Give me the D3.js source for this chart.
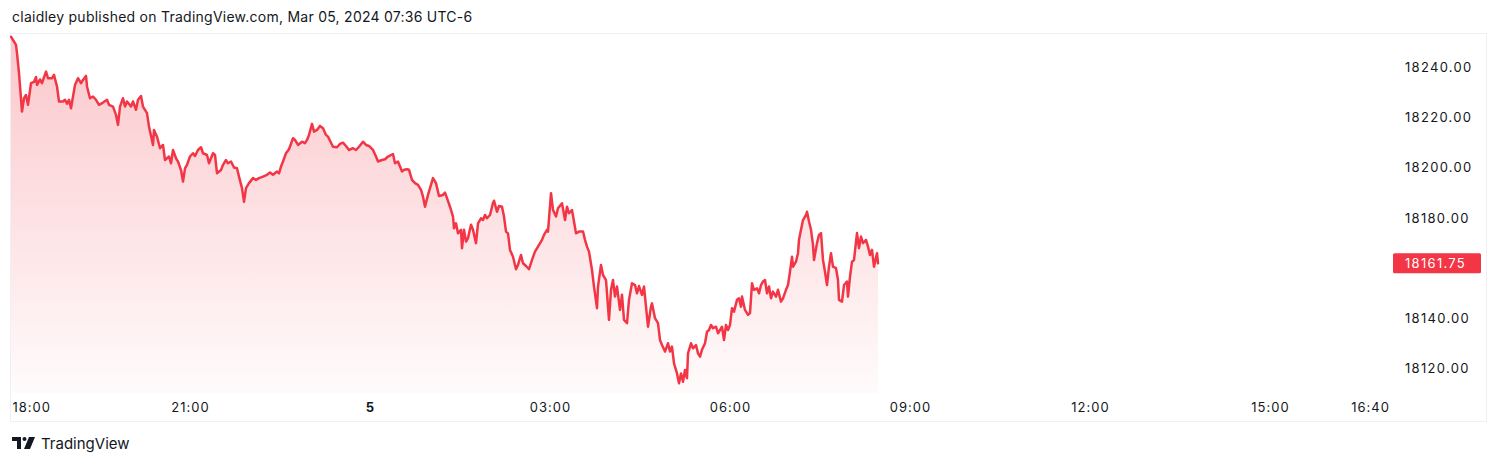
<!DOCTYPE html>
<html>
<head>
<meta charset="utf-8">
<script src="https://cdn.jsdelivr.net/npm/d3@7"></script>
<style>
  html, body { margin: 0; padding: 0; background: #ffffff; }
  svg { display: block; }
  text { font-family: Inter, "Noto Sans", "DejaVu Sans", sans-serif; }
</style>
</head>
<body>
<svg id="chart" width="1500" height="465"></svg>
<script>
// ---- Data (minutes since 18:00 on Mar 4, price) ----
const minutes = [1,6,7,9,12,14,16,18,21,24,26,27,30,32,36,38,42,44,47,49,53,55,57,59,61,63,65,68,71,73,76,77,80,83,86,89,93,97,99,103,106,108,110,113,115,117,121,123,126,128,131,133,137,139,143,144,147,150,153,155,159,161,163,166,168,171,173,175,177,180,183,185,188,191,193,197,199,203,205,207,211,213,216,218,221,224,227,229,232,234,236,239,243,246,249,253,257,260,263,267,269,271,273,276,279,283,285,288,292,295,297,299,302,304,307,310,313,316,318,321,323,327,330,333,336,339,343,346,349,353,356,359,363,366,368,372,375,378,383,385,388,392,394,397,399,402,405,408,411,413,415,418,420,423,426,429,433,435,437,440,443,444,446,448,451,452,454,456,458,461,463,466,468,471,473,475,477,480,483,484,487,489,492,494,496,498,500,503,506,508,511,513,516,519,522,525,528,532,534,537,538,541,543,546,548,552,555,557,559,562,564,566,569,573,575,577,579,582,584,587,588,591,593,596,599,601,603,605,607,610,612,614,617,619,622,625,627,629,632,634,636,638,641,642,645,648,650,652,655,658,660,662,664,667,669,671,673,675,677,678,681,683,686,688,690,692,695,697,699,701,703,706,708,710,712,714,716,718,720,722,724,727,729,731,732,735,738,740,742,744,747,749,751,753,755,757,759,761,763,766,768,771,773,776,778,780,782,783,786,788,789,791,793,796,797,799,801,803,804,807,809,811,813,815,817,819,821,823,826,828,829,832,834,837,838,840,842,844,847,849,851,853,856,858,860,862,864,867,868];
const prices = [18252.0,18248.8,18245.5,18237.5,18222.2,18227.5,18228.8,18224.9,18233.5,18234.0,18236.0,18232.8,18235.0,18233.5,18238.1,18235.5,18235.5,18236.8,18232.2,18226.2,18226.2,18226.9,18225.3,18226.9,18223.5,18228.2,18232.8,18235.5,18233.5,18234.8,18236.4,18232.2,18227.5,18228.2,18226.9,18224.9,18225.8,18226.9,18224.9,18224.2,18220.9,18216.9,18224.2,18227.5,18224.2,18226.2,18224.2,18226.2,18222.9,18226.9,18228.4,18224.2,18221.6,18216.2,18208.9,18214.9,18212.2,18207.6,18208.9,18202.9,18204.3,18201.6,18206.9,18203.6,18202.3,18198.9,18194.3,18199.6,18201.0,18204.3,18205.6,18204.5,18206.9,18208.0,18205.6,18204.9,18201.6,18205.6,18204.9,18197.6,18198.9,18201.0,18202.9,18201.6,18202.3,18199.9,18199.6,18196.3,18191.7,18186.3,18191.7,18193.7,18195.7,18195.0,18195.7,18196.3,18197.0,18197.9,18197.0,18198.3,18197.6,18200.3,18202.3,18205.6,18207.2,18211.6,18210.9,18208.9,18210.2,18209.6,18210.9,18212.9,18217.3,18214.2,18214.9,18216.5,18215.6,18212.9,18212.2,18209.8,18208.2,18208.0,18209.3,18209.8,18208.5,18206.9,18207.6,18206.9,18208.2,18210.2,18208.9,18208.5,18206.9,18204.3,18202.3,18202.9,18203.2,18204.3,18205.3,18201.6,18202.3,18198.3,18199.0,18199.2,18199.0,18195.0,18193.7,18193.0,18191.0,18188.3,18184.3,18189.0,18191.7,18195.7,18193.7,18188.6,18189.0,18189.9,18187.7,18184.3,18180.4,18175.7,18177.7,18173.7,18175.1,18167.8,18175.1,18170.4,18171.8,18177.1,18175.1,18169.8,18177.7,18179.7,18179.0,18181.0,18179.7,18181.0,18185.9,18186.7,18182.3,18184.6,18184.3,18180.4,18174.4,18173.7,18167.1,18164.4,18159.4,18161.1,18165.1,18161.8,18160.7,18159.4,18163.1,18166.4,18168.4,18171.1,18173.1,18175.1,18174.4,18189.7,18183.0,18180.4,18183.7,18185.7,18179.0,18184.3,18181.7,18183.0,18178.4,18173.7,18174.4,18174.4,18171.1,18168.4,18166.4,18159.1,18152.5,18143.9,18152.5,18161.1,18157.1,18155.1,18139.2,18151.2,18155.1,18148.5,18152.5,18143.2,18149.2,18139.2,18137.9,18147.2,18153.8,18153.1,18149.8,18152.7,18149.2,18152.5,18144.5,18136.5,18144.5,18145.8,18139.9,18137.9,18131.2,18129.2,18126.6,18129.9,18126.6,18128.6,18121.9,18117.9,18114.0,18117.9,18114.6,18119.3,18116.0,18125.9,18129.9,18127.9,18129.2,18125.9,18124.6,18127.3,18129.9,18134.5,18135.2,18137.2,18135.9,18136.5,18133.9,18135.2,18136.5,18131.2,18137.2,18135.2,18137.2,18143.9,18142.5,18147.2,18147.8,18144.5,18148.5,18143.2,18141.2,18141.9,18153.8,18151.2,18151.8,18149.8,18153.1,18154.5,18155.1,18149.8,18152.5,18147.8,18150.5,18148.5,18151.2,18146.5,18147.8,18151.2,18153.1,18158.4,18164.4,18160.4,18162.4,18165.8,18171.1,18175.1,18179.0,18181.0,18182.3,18178.4,18175.1,18169.1,18163.1,18169.8,18173.1,18173.8,18163.1,18158.4,18153.1,18160.4,18165.8,18160.4,18159.8,18155.1,18147.2,18146.5,18153.1,18154.5,18148.5,18156.4,18162.4,18163.1,18173.8,18167.8,18172.4,18169.8,18171.1,18168.4,18165.1,18167.1,18160.4,18165.8,18161.75];

const priceTicks = [18120, 18140, 18180, 18200, 18220, 18240];
const lastPrice = 18161.75;
// time tick labels: minutes since 18:00 and their labels
const timeTickMinutes = [0, 180, 360, 540, 720, 900, 1080, 1260, 1360];
const timeTickLabels = ["18:00", "21:00", "5", "03:00", "06:00", "09:00", "12:00", "15:00", "16:40"];
const headerText = "claidley published on TradingView.com, Mar 05, 2024 07:36 UTC-6";

// ---- Setup ----
const svg = d3.select("#chart");
const pane = { left: 10, right: 1387, top: 33, bottom: 393 };
const frame = { left: 10, right: 1487, top: 33, bottom: 422 };
const RED = "#F23645";
const INK = "#131722";

const t0 = new Date(2024, 2, 4, 18, 0);
const toDate = m => new Date(t0.getTime() + m * 60000);
const data = minutes.map((m, i) => ({ t: toDate(m), v: prices[i] }));

const x = d3.scaleTime()
  .domain([t0, toDate(pane.right - pane.left)])
  .range([pane.left, pane.right]);
const y = d3.scaleLinear()
  .domain([18110.1, 18253.5])
  .range([pane.bottom, pane.top]);

// header
svg.append("text")
  .attr("x", 12).attr("y", 22)
  .attr("font-size", 14).attr("letter-spacing", 0.25).attr("fill", INK)
  .text(headerText);

// frame
svg.append("rect")
  .attr("x", frame.left + 0.5).attr("y", frame.top + 0.5)
  .attr("width", frame.right - frame.left - 1).attr("height", frame.bottom - frame.top - 1)
  .attr("fill", "none").attr("stroke", "#eef0f5").attr("stroke-width", 1);

// gradient
const defs = svg.append("defs");
const grad = defs.append("linearGradient")
  .attr("id", "areaGrad").attr("gradientUnits", "userSpaceOnUse")
  .attr("x1", 0).attr("x2", 0).attr("y1", pane.top).attr("y2", pane.bottom);
grad.append("stop").attr("offset", "0%").attr("stop-color", RED).attr("stop-opacity", 0.28);
grad.append("stop").attr("offset", "100%").attr("stop-color", RED).attr("stop-opacity", 0.02);

const clip = defs.append("clipPath").attr("id", "paneClip");
clip.append("rect").attr("x", pane.left).attr("y", pane.top)
  .attr("width", pane.right - pane.left).attr("height", pane.bottom - pane.top);

const g = svg.append("g").attr("clip-path", "url(#paneClip)");

const area = d3.area()
  .x(d => x(d.t)).y0(pane.bottom).y1(d => y(d.v))
  .curve(d3.curveLinear);
const line = d3.line()
  .x(d => x(d.t)).y(d => y(d.v))
  .curve(d3.curveLinear);

g.append("path").datum(data).attr("d", area).attr("fill", "url(#areaGrad)");
g.append("path").datum(data).attr("d", line)
  .attr("fill", "none").attr("stroke", RED).attr("stroke-width", 2.5)
  .attr("stroke-linejoin", "round").attr("stroke-linecap", "round");

// price axis
const yAxis = d3.axisRight(y).tickValues(priceTicks).tickSize(0).tickPadding(0)
  .tickFormat(d => d3.format(".2f")(d));
const yAxisG = svg.append("g").attr("transform", `translate(1405,0)`).call(yAxis);
yAxisG.select(".domain").remove();
yAxisG.selectAll("text")
  .attr("font-size", 13).attr("letter-spacing", 1.3).attr("fill", INK)
  .attr("font-family", "Inter, 'Noto Sans', sans-serif")
  .attr("dy", "0.35em");

// last price tag
const ly = y(lastPrice);
svg.append("rect")
  .attr("x", 1393).attr("y", ly - 10).attr("width", 88).attr("height", 20)
  .attr("rx", 1.5).attr("fill", RED);
svg.append("text")
  .attr("x", 1405).attr("y", ly).attr("dy", "0.35em")
  .attr("font-size", 13).attr("letter-spacing", 1.3).attr("fill", "#ffffff")
  .text(d3.format(".2f")(lastPrice));

// time axis
const xAxis = d3.axisBottom(x)
  .tickValues(timeTickMinutes.map(toDate))
  .tickSize(0).tickPadding(0)
  .tickFormat((d, i) => timeTickLabels[i]);
const xAxisG = svg.append("g").attr("transform", `translate(0,${pane.bottom})`).call(xAxis);
xAxisG.select(".domain").remove();
xAxisG.selectAll("text")
  .attr("font-size", 13).attr("letter-spacing", 1).attr("fill", INK)
  .attr("font-family", "Inter, 'Noto Sans', sans-serif")
  .attr("y", 14).attr("dy", "0.35em")
  .attr("font-weight", (d, i) => timeTickLabels[i] === "5" ? 700 : 400)
  .attr("text-anchor", (d, i) => i === 0 ? "start" : "middle")
  .attr("x", (d, i) => i === 0 ? 12 - x(d) : 0);

// logo
const logo = svg.append("g").attr("transform", "translate(12,437)");
logo.append("path").attr("d", "M0 0 H9 V12 H5 V4 H0 Z").attr("fill", INK);
logo.append("circle").attr("cx", 12.5).attr("cy", 2).attr("r", 2).attr("fill", INK);
logo.append("path").attr("d", "M17 0 H23 L18 12 H12 Z").attr("fill", INK);
svg.append("text")
  .attr("x", 41).attr("y", 449)
  .attr("font-size", 15).attr("fill", INK)
  .text("TradingView");
</script>
</body>
</html>
